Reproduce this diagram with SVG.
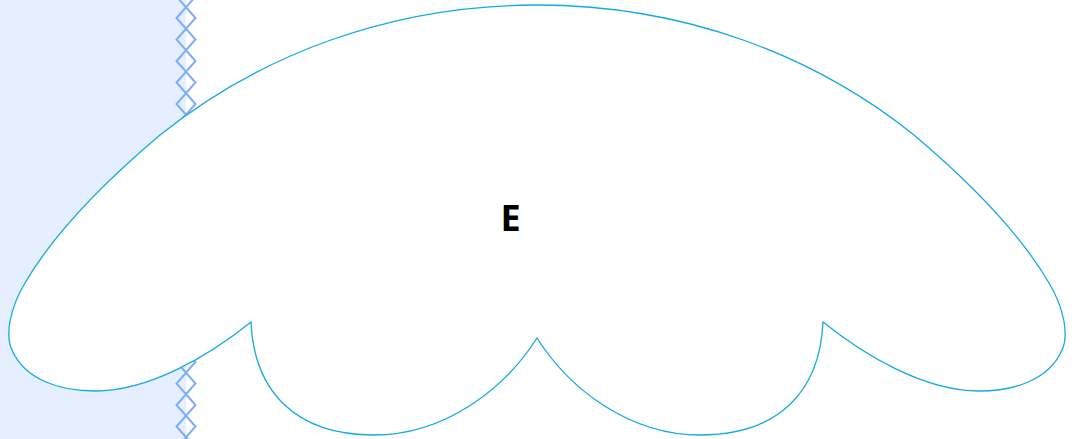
<svg xmlns="http://www.w3.org/2000/svg" width="1077" height="439" viewBox="0 0 1077 439">
  <defs>
    <style>
      .lane { fill: #e6efff; }
      .dia { fill: none; stroke: #7fadf6; stroke-width: 2; }
      .cloud { fill: #ffffff; stroke: #15a9e3; stroke-width: 1.3; }
      .lbl { font-family: "Open Sans", "Noto Sans", "Liberation Sans", sans-serif; font-weight: bold; font-size: 36px; fill: #000000; text-anchor: middle; }
    </style>
    <path id="d" class="dia" d="M 0,-10.75 L 9.5,0 L 0,10.75 L -9.5,0 Z"/>
  </defs>
  <rect class="lane" x="0" y="0" width="186" height="439"/>
  <g id="border">
    <use href="#d" x="186" y="-3.5"/>
    <use href="#d" x="186" y="18"/>
    <use href="#d" x="186" y="39.5"/>
    <use href="#d" x="186" y="61"/>
    <use href="#d" x="186" y="82.5"/>
    <use href="#d" x="186" y="104"/>
    <use href="#d" x="186" y="125.5"/>
    <use href="#d" x="186" y="147"/>
    <use href="#d" x="186" y="168.5"/>
    <use href="#d" x="186" y="190"/>
    <use href="#d" x="186" y="211.5"/>
    <use href="#d" x="186" y="233"/>
    <use href="#d" x="186" y="254.5"/>
    <use href="#d" x="186" y="276"/>
    <use href="#d" x="186" y="297.5"/>
    <use href="#d" x="186" y="319"/>
    <use href="#d" x="186" y="340.5"/>
    <use href="#d" x="186" y="362"/>
    <use href="#d" x="186" y="383.5"/>
    <use href="#d" x="186" y="405"/>
    <use href="#d" x="186" y="426.5"/>
    <use href="#d" x="186" y="448"/>
  </g>
  <g id="connectors"></g>
  <g id="node-E">
    <path class="cloud" d="M 537,5 C 390,5 260,55 160,135 C 95,190 50,240 25,283 C 10,308 5,335 12,350 C 25,380 60,391 95,391 C 150,391 210,355 251,322 C 254,390 294,435 374,435 C 444,435 504,390 537,338 C 570,390 630,435 700,435 C 780,435 820,390 823,322 C 864,355 924,391 979,391 C 1014,391 1049,380 1062,350 C 1069,335 1064,308 1049,283 C 1024,240 979,190 914,135 C 814,55 684,5 537,5 Z"/>
    <text class="lbl" x="510.5" y="231">E</text>
  </g>
</svg>
